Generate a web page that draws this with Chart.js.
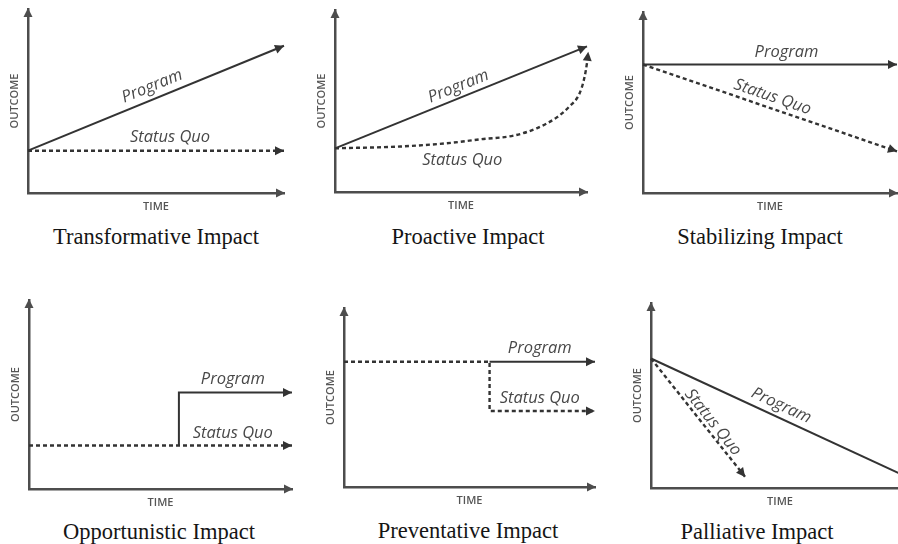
<!DOCTYPE html>
<html>
<head>
<meta charset="utf-8">
<script src="https://cdn.jsdelivr.net/npm/chart.js@4"></script>
<style>
  html, body { margin: 0; padding: 0; background: #fff; overflow: hidden; }
  #wrap { position: relative; width: 898px; height: 544px; overflow: hidden; }
  canvas { position: absolute; }
  .ttl { position: absolute; transform: translateX(-50%); white-space: nowrap;
         font-family: "Liberation Serif", serif; font-size: 22.5px; line-height: 26px; color: #151515; }
</style>
</head>
<body>
<div id="wrap"></div>
<script>
// ---- data (values on a 0..10 scale for both axes) ----
const timeLabel = 'TIME';
const outcomeLabel = 'OUTCOME';
const panelTitles = ['Transformative Impact', 'Proactive Impact', 'Stabilizing Impact',
                     'Opportunistic Impact', 'Preventative Impact', 'Palliative Impact'];

const transProgramX = [0, 10];
const transProgramY = [2.3, 8.0];
const transStatusX = [0, 10];
const transStatusY = [2.3, 2.3];

const proProgramX = [0, 10];
const proProgramY = [2.4, 8.0];
const proStatusX = [0, 2.6, 4.6, 5.8, 7.1, 8.0, 8.8, 9.3, 9.7, 9.9, 10.0, 10.05];
const proStatusY = [2.4, 2.5, 2.7, 2.9, 3.1, 3.5, 4.1, 4.7, 5.4, 6.3, 7.1, 7.7];

const stabProgramX = [0, 10];
const stabProgramY = [7.1, 7.1];
const stabStatusX = [0, 10];
const stabStatusY = [7.1, 2.3];

const oppProgramX = [5.7, 5.7, 10];
const oppProgramY = [2.3, 5.1, 5.1];
const oppStatusX = [0, 10];
const oppStatusY = [2.3, 2.3];

const prevProgramX = [5.8, 10];
const prevProgramY = [7.0, 7.0];
const prevStatusX = [0, 5.8, 5.8, 10];
const prevStatusY = [7.0, 7.0, 4.25, 4.25];

const palProgramX = [0, 10];
const palProgramY = [7.0, 0.55];
const palStatusX = [0, 3.65];
const palStatusY = [7.0, 0.6];

// label anchors: [x, y, follow line?]
const programLabels = [[4.85, 5.8, true], [4.9, 5.8, true], [5.65, 7.8, false],
                       [7.75, 5.8, false], [7.8, 7.75, false], [5.05, 4.45, true]];
const statusLabels = [[5.55, 3.05, false], [5.05, 1.75, false], [5.1, 5.3, true],
                      [7.75, 2.95, false], [7.8, 4.95, false], [2.4, 3.55, true]];

// ---- layout: plot area (axis corner / arrow tips) and title centre, page px ----
const areas = [
  { l: 28, t: 9, r: 284, b: 193, tx: 156, ty: 237 },
  { l: 335, t: 10, r: 587, b: 192, tx: 468, ty: 237 },
  { l: 643, t: 12, r: 897, b: 193, tx: 760, ty: 237 },
  { l: 29, t: 300, r: 292, b: 489, tx: 159, ty: 532 },
  { l: 344, t: 308, r: 595, b: 487, tx: 468, ty: 531 },
  { l: 651, t: 303, r: 909, b: 488, tx: 757, ty: 532 }
];

const series = [
  [transProgramX, transProgramY, transStatusX, transStatusY],
  [proProgramX, proProgramY, proStatusX, proStatusY],
  [stabProgramX, stabProgramY, stabStatusX, stabStatusY],
  [oppProgramX, oppProgramY, oppStatusX, oppStatusY],
  [prevProgramX, prevProgramY, prevStatusX, prevStatusY],
  [palProgramX, palProgramY, palStatusX, palStatusY]
];

const INK = '#333333';
const AXIS = '#4d4d4d';
const LABEL = '#484848';
const PAD = { left: 4, top: 10, right: 8, bottom: 4 };
const Y_TITLE_W = 21;  // 12 line + 2 + 7 padding
const X_TITLE_H = 24;  // 12 line + 8 + 4 padding

function pts(xs, ys) {
  return xs.map((x, i) => ({ x: x, y: ys[i] }));
}

function arrow(ctx, x, y, ang, color) {
  const len = 9, half = 4.5;
  ctx.save();
  ctx.translate(x, y);
  ctx.rotate(ang);
  ctx.fillStyle = color;
  ctx.beginPath();
  ctx.moveTo(0, 0);
  ctx.lineTo(-len, -half);
  ctx.lineTo(-len, half);
  ctx.closePath();
  ctx.fill();
  ctx.restore();
}

const arrowPlugin = {
  id: 'arrows',
  afterDatasetsDraw(chart) {
    const ctx = chart.ctx;
    const a = chart.chartArea;
    arrow(ctx, a.right + 1, a.bottom, 0, AXIS);
    arrow(ctx, a.left, a.top - 1, -Math.PI / 2, AXIS);
    chart.data.datasets.forEach((ds, i) => {
      const els = chart.getDatasetMeta(i).data;
      const p1 = els[els.length - 1], p0 = els[els.length - 2];
      arrow(ctx, p1.x, p1.y, Math.atan2(p1.y - p0.y, p1.x - p0.x), INK);
    });
    // line labels
    const xs = chart.scales.x, ys = chart.scales.y;
    ctx.save();
    ctx.font = 'italic 16.5px "Open Sans"';
    ctx.fillStyle = LABEL;
    ctx.textAlign = 'center';
    ctx.textBaseline = 'middle';
    chart.options.plugins.arrows.labels.forEach(lb => {
      let ang = 0;
      if (lb.follow) {
        const els = chart.getDatasetMeta(lb.ds).data;
        const p0 = els[0], p1 = els[els.length - 1];
        ang = Math.atan2(p1.y - p0.y, p1.x - p0.x);
      }
      ctx.save();
      ctx.translate(xs.getPixelForValue(lb.x), ys.getPixelForValue(lb.y));
      ctx.rotate(ang);
      ctx.fillText(lb.text, 0, 0);
      ctx.restore();
    });
    ctx.restore();
  }
};

const axisFont = { family: '"Open Sans"', size: 11, weight: '600', lineHeight: '12px' };
const wrap = document.getElementById('wrap');

areas.forEach((ar, k) => {
  const left = ar.l - Y_TITLE_W - PAD.left;
  const top = ar.t - PAD.top;
  const w = ar.r + PAD.right - left;
  const h = ar.b + X_TITLE_H + PAD.bottom - top;
  const cv = document.createElement('canvas');
  cv.width = w; cv.height = h;
  cv.style.left = left + 'px'; cv.style.top = top + 'px';
  cv.style.width = w + 'px'; cv.style.height = h + 'px';
  wrap.appendChild(cv);

  const t = document.createElement('div');
  t.className = 'ttl';
  t.textContent = panelTitles[k];
  t.style.left = ar.tx + 'px';
  t.style.top = (ar.ty - 13) + 'px';
  wrap.appendChild(t);

  const s = series[k];
  new Chart(cv, {
    type: 'line',
    data: {
      datasets: [
        { label: 'Program', data: pts(s[0], s[1]), borderColor: INK, borderWidth: 2,
          pointRadius: 0, clip: false, tension: 0 },
        { label: 'Status Quo', data: pts(s[2], s[3]), borderColor: INK, borderWidth: 2.4,
          borderDash: [4, 3], pointRadius: 0, clip: false,
          cubicInterpolationMode: k === 1 ? 'monotone' : 'default', tension: 0 }
      ]
    },
    options: {
      responsive: false,
      animation: false,
      devicePixelRatio: 1,
      layout: { padding: PAD, autoPadding: false },
      scales: {
        x: {
          type: 'linear', min: 0, max: 10,
          grid: { display: false, drawTicks: false },
          ticks: { display: false },
          border: { display: true, color: AXIS, width: 2.5 },
          title: { display: true, text: timeLabel, color: '#555', font: axisFont,
                   padding: { top: 8, bottom: 4 } }
        },
        y: {
          type: 'linear', min: 0, max: 10,
          grid: { display: false, drawTicks: false },
          ticks: { display: false },
          border: { display: true, color: AXIS, width: 2.5 },
          title: { display: true, text: outcomeLabel, color: '#555', font: axisFont,
                   padding: { top: 2, bottom: 7 } }
        }
      },
      plugins: {
        legend: { display: false },
        tooltip: { enabled: false },
        arrows: {
          labels: [
            { text: 'Program', x: programLabels[k][0], y: programLabels[k][1], follow: programLabels[k][2], ds: 0 },
            { text: 'Status Quo', x: statusLabels[k][0], y: statusLabels[k][1], follow: statusLabels[k][2], ds: 1 }
          ]
        }
      }
    },
    plugins: [arrowPlugin]
  });
});
</script>
</body>
</html>
